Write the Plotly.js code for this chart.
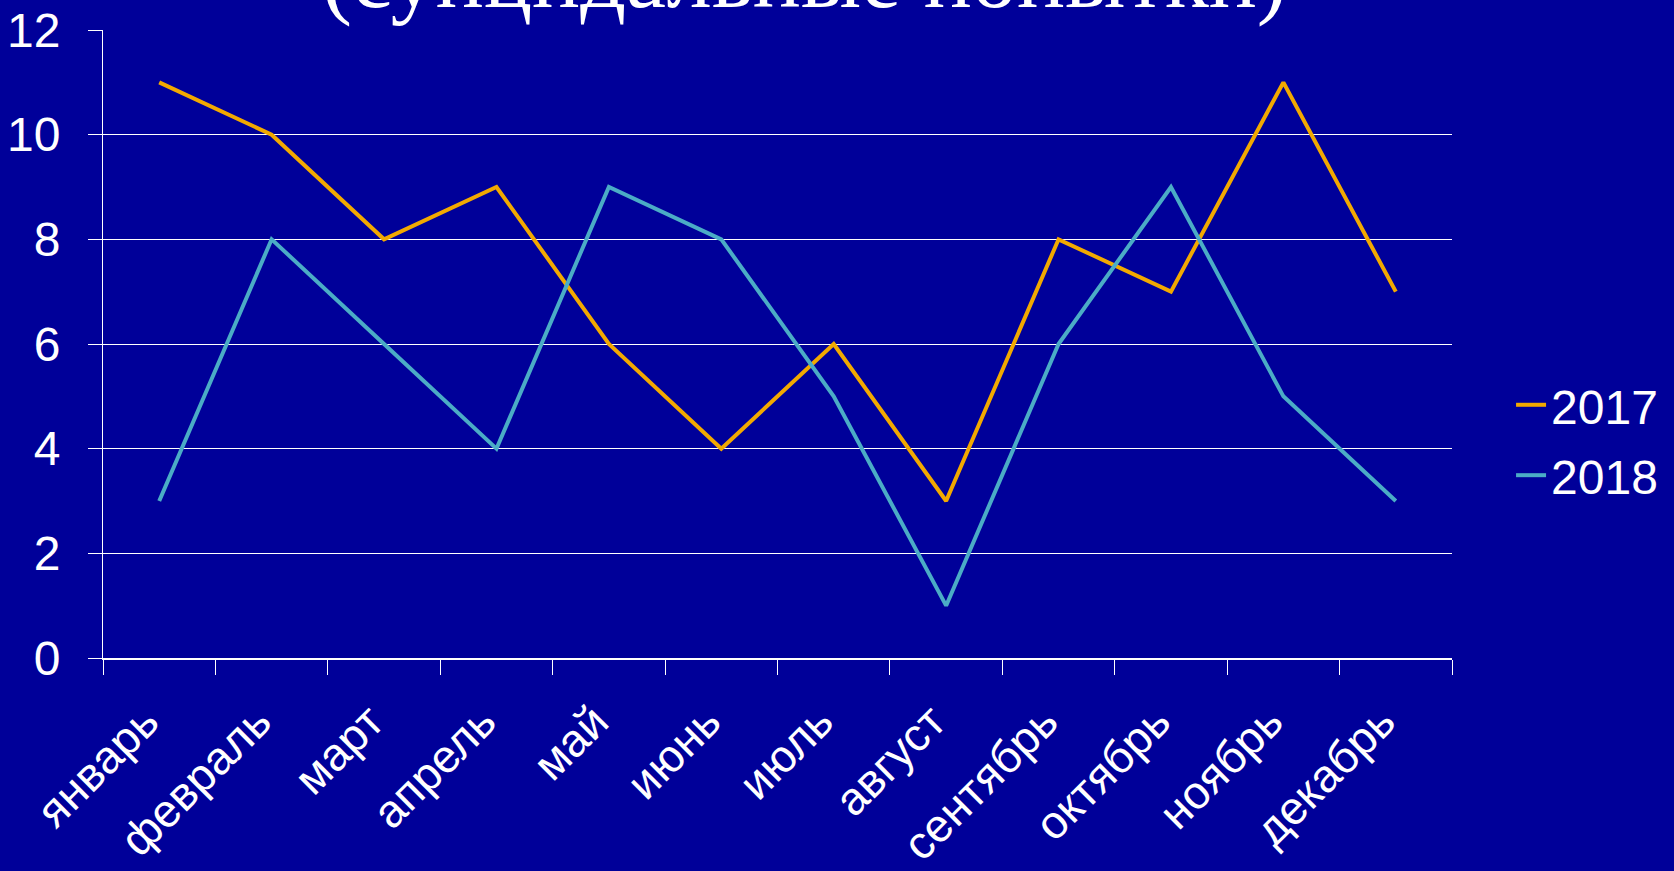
<!DOCTYPE html>
<html>
<head>
<meta charset="utf-8">
<script src="https://cdn.plot.ly/plotly-3.0.1.min.js"></script>
<style>
html, body { margin: 0; padding: 0; background: #000099; overflow: hidden; }
#chart { width: 1674px; height: 871px; }
</style>
</head>
<body>
<div id="chart"></div>
<script>
const months = ["январь", "февраль", "март", "апрель", "май", "июнь", "июль", "август", "сентябрь", "октябрь", "ноябрь", "декабрь"];
const values2017 = [11, 10, 8, 9, 6, 4, 6, 3, 8, 7, 11, 7];
const values2018 = [3, 8, 6, 4, 9, 8, 5, 1, 6, 9, 5, 3];
const seriesNames = ["2017", "2018"];
const titleText = "(суицидальные попытки)";

const traces = [
  {
    x: months, y: values2017, name: seriesNames[0], type: "scatter", mode: "lines",
    line: { color: "#F2A900", width: 4 }, legendgroup: "a"
  },
  {
    x: months, y: values2018, name: seriesNames[1], type: "scatter", mode: "lines",
    line: { color: "#4BACC6", width: 4 }, legendgroup: "b"
  }
];

const layout = {
  width: 1674, height: 871,
  paper_bgcolor: "#000099", plot_bgcolor: "#000099",
  margin: { l: 103, r: 221, t: 30, b: 213 },
  font: { family: "Liberation Sans, Arial, sans-serif", color: "#ffffff" },
  xaxis: {
    type: "category", range: [-0.5, 11.5], tickson: "boundaries",
    ticks: "outside", ticklen: 15, tickcolor: "#ffffff", tickwidth: 1,
    showline: true, linecolor: "#ffffff", linewidth: 2,
    showgrid: false, zeroline: false, automargin: false,
    tickangle: -45, tickfont: { size: 46, color: "#ffffff" },
    ticklabelstandoff: 16, ticklabelshift: -14
  },
  yaxis: {
    range: [0, 12], dtick: 2, tick0: 0,
    ticks: "outside", ticklen: 14, tickcolor: "#ffffff", tickwidth: 1,
    showline: true, linecolor: "#ffffff", linewidth: 1,
    showgrid: true, gridcolor: "#ffffff", gridwidth: 1,
    zeroline: false, automargin: false,
    tickfont: { size: 48, color: "#ffffff" }, ticklabelstandoff: 18
  },
  showlegend: true,
  legend: {
    x: 1.043, xanchor: "left", y: 0.347, yanchor: "middle",
    font: { size: 48, color: "#ffffff" }, bgcolor: "rgba(0,0,0,0)",
    tracegroupgap: 5, traceorder: "grouped"
  },
  annotations: [
    {
      text: titleText, xref: "paper", yref: "paper", x: 0.52, y: 1.001,
      xanchor: "center", yanchor: "bottom", showarrow: false,
      font: { family: "Liberation Serif, Times New Roman, serif", size: 90, color: "#ffffff" }
    }
  ]
};

Plotly.newPlot("chart", traces, layout, { displayModeBar: false });
</script>
</body>
</html>
